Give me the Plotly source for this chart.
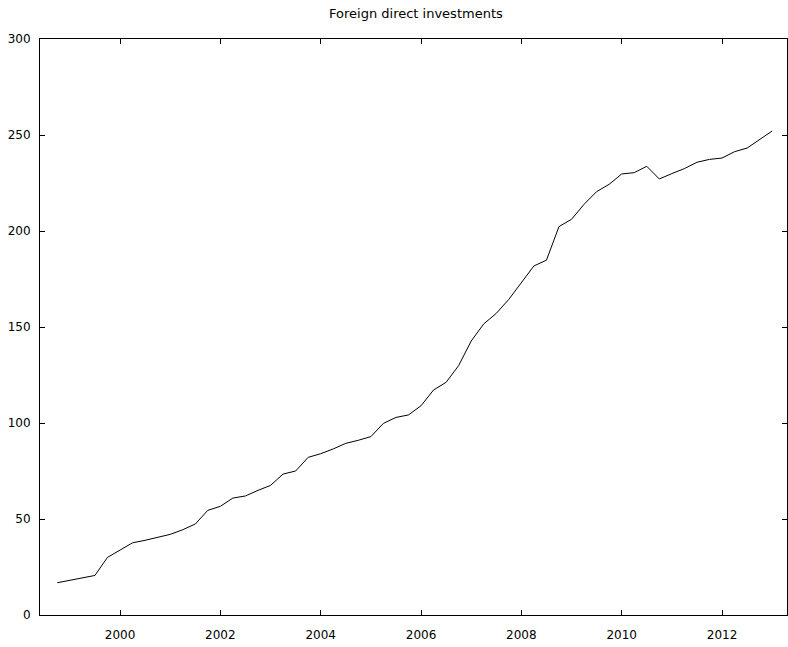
import plotly.graph_objects as go

# Quarterly observations (decimal year) and stock of foreign direct investments
quarters = [
    1998.75, 1999.50, 1999.75,
    2000.00, 2000.25, 2000.50, 2000.75,
    2001.00, 2001.25, 2001.50, 2001.75,
    2002.00, 2002.25, 2002.50, 2002.75,
    2003.00, 2003.25, 2003.50, 2003.75,
    2004.00, 2004.25, 2004.50, 2004.75,
    2005.00, 2005.25, 2005.50, 2005.75,
    2006.00, 2006.25, 2006.50, 2006.75,
    2007.00, 2007.25, 2007.50, 2007.75,
    2008.00, 2008.25, 2008.50, 2008.75,
    2009.00, 2009.25, 2009.50, 2009.75,
    2010.00, 2010.25, 2010.50, 2010.75,
    2011.00, 2011.25, 2011.50, 2011.75,
    2012.00, 2012.25, 2012.50, 2012.75,
    2013.00,
]
fdi = [
    16.8, 20.6, 30.0,
    34.0, 37.6, 38.9, 40.6,
    42.0, 44.4, 47.4, 54.5,
    56.6, 60.9, 62.0, 64.9,
    67.5, 73.4, 75.0, 82.1,
    84.0, 86.5, 89.4, 91.0,
    92.9, 99.8, 102.9, 104.2,
    109.0, 117.2, 121.2, 129.9,
    142.7, 151.6, 157.1, 164.4,
    173.1, 181.8, 184.8, 202.3,
    206.1, 213.9, 220.5, 224.3,
    229.7, 230.4, 233.7, 227.1,
    229.9, 232.5, 235.8, 237.3,
    238.0, 241.3, 243.2, 247.7,
    252.1,
]

year_ticks = [2000, 2002, 2004, 2006, 2008, 2010, 2012]
year_labels = [str(y) for y in year_ticks]
value_ticks = [0, 50, 100, 150, 200, 250, 300]

font = dict(family="DejaVu Sans", size=12, color="black")

fig = go.Figure(
    go.Scatter(
        x=quarters,
        y=fdi,
        mode="lines",
        line=dict(color="black", width=1),
        hoverinfo="x+y",
    )
)

axis_common = dict(
    showgrid=False,
    zeroline=False,
    showline=True,
    linecolor="black",
    linewidth=1,
    mirror="ticks",
    ticks="inside",
    ticklen=5,
    tickwidth=1,
    tickcolor="black",
    tickfont=font,
)

fig.update_layout(
    width=788,
    height=647,
    margin=dict(l=40, r=1, t=39, b=32),
    paper_bgcolor="white",
    plot_bgcolor="white",
    showlegend=False,
    font=font,
    title=dict(
        text="Foreign direct investments",
        x=415.9 / 788,
        xanchor="center",
        y=1 - 13 / 647,
        yanchor="middle",
        font=dict(family="DejaVu Sans", size=13, color="black"),
    ),
    xaxis=dict(
        range=[1998.405, 2013.295],
        tickvals=year_ticks,
        ticktext=year_labels,
        ticklabelstandoff=9,
        **axis_common,
    ),
    yaxis=dict(
        range=[0, 300],
        tickvals=value_ticks,
        ticklabelstandoff=6,
        **axis_common,
    ),
)

fig.write_html("out.html")
